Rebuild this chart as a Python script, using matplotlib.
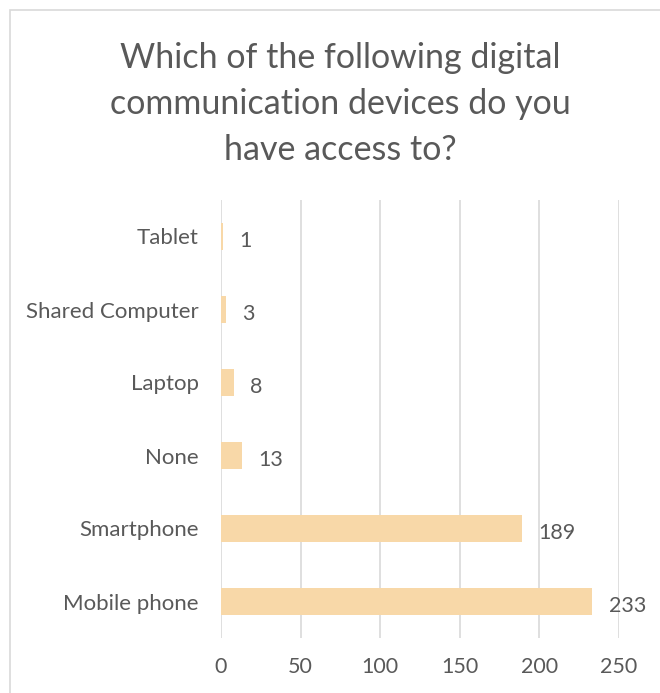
import matplotlib
matplotlib.use("Agg")
import matplotlib.pyplot as plt
from matplotlib.patches import Rectangle

# survey answers, bottom row first
devices = ["Mobile phone", "Smartphone", "None", "Laptop", "Shared Computer", "Tablet"]
counts = [233, 189, 13, 8, 3, 1]
x_ticks = [0, 50, 100, 150, 200, 250]

TEXT = "#595959"
GRID = "#D9D9D9"
BAR = "#F8D8A8"
FONT = "Lato"

fig = plt.figure(figsize=(6.6, 6.93), dpi=100)
fig.patch.set_facecolor("white")

# outer chart frame (runs off the right and bottom edges)
fig.patches.append(Rectangle((10 / 660, -0.05), 1.0, 1 - 10 / 693 + 0.05,
                             transform=fig.transFigure, fill=False,
                             edgecolor=GRID, linewidth=1.2))

ax = fig.add_axes([221 / 660, 1 - 638 / 693, 398 / 660, 438 / 693])
ypos = range(len(devices))
bars = ax.barh(ypos, counts, height=0.36, color=BAR, zorder=2)

ax.set_xlim(0, 250)
ax.set_ylim(-0.5, len(devices) - 0.5)
ax.set_xticks(x_ticks)
ax.set_xticklabels([str(t) for t in x_ticks], fontsize=15.5, color=TEXT, family=FONT)
ax.set_yticks(list(ypos))
ax.set_yticklabels(devices, fontsize=16, color=TEXT, family=FONT)
ax.tick_params(length=0)
ax.tick_params(axis="x", pad=14)
ax.tick_params(axis="y", pad=16)
ax.grid(axis="x", color=GRID, linewidth=1.2, zorder=0)
for side in ax.spines.values():
    side.set_visible(False)

for rect, val in zip(bars, counts):
    ax.annotate(str(val), (rect.get_width(), rect.get_y() + rect.get_height() / 2),
                xytext=(12, -3), textcoords="offset points", va="center", ha="left",
                fontsize=15.5, color=TEXT, family=FONT)

fig.text(340 / 660, 1 - 104 / 693,
         "Which of the following digital\ncommunication devices do you\nhave access to?",
         ha="center", va="center", fontsize=24.5, color=TEXT, family=FONT,
         linespacing=1.55)

fig.savefig("out.png", dpi=100)
